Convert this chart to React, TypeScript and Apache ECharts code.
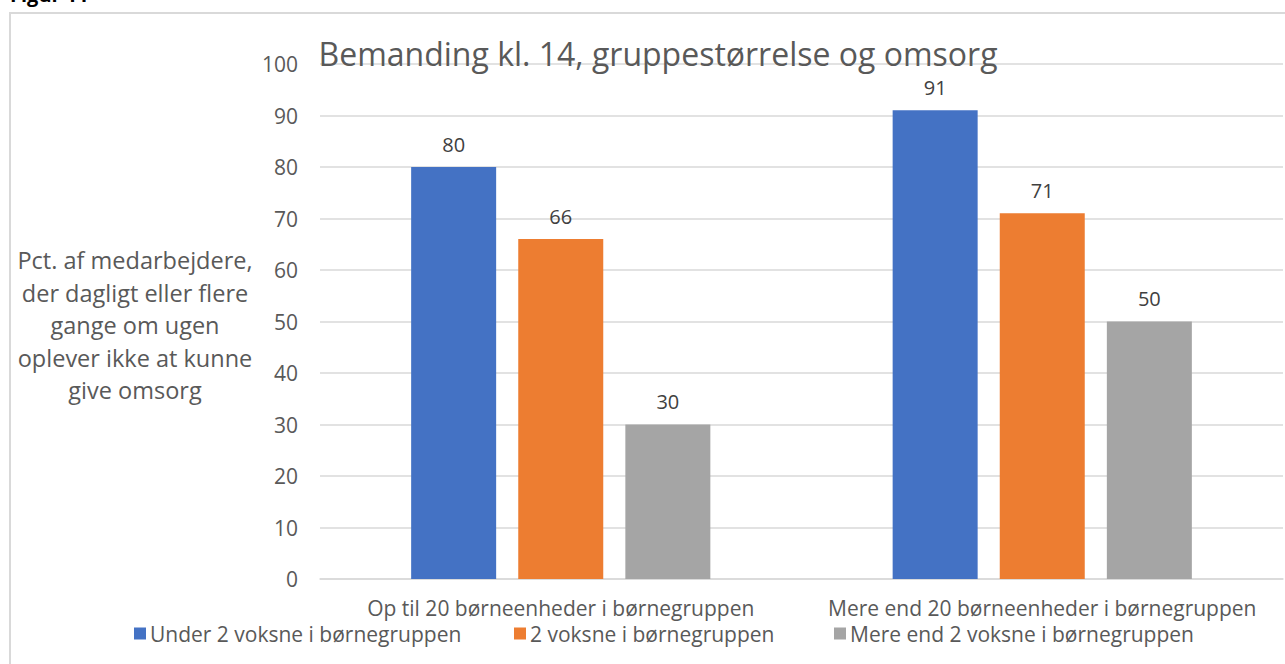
import React, { useEffect, useRef } from "react";
import * as echarts from "echarts";

const categories = [
  "Op til 20 børneenheder i børnegruppen",
  "Mere end 20 børneenheder i børnegruppen",
];
const seriesNames = [
  "Under 2 voksne i børnegruppen",
  "2 voksne i børnegruppen",
  "Mere end 2 voksne i børnegruppen",
];
const under2 = [80, 91];
const two = [66, 71];
const over2 = [30, 50];
const colors = ["#4472C4", "#ED7D31", "#A5A5A5"];
const yTicks = { min: 0, max: 100, interval: 10 };
const titleText = "Bemanding kl. 14, gruppestørrelse og omsorg";
const yAxisTitle =
  "Pct. af medarbejdere,\nder dagligt eller flere\ngange om ugen\noplever ikke at kunne\ngive omsorg";

const FONT = "'Open Sans', 'Noto Sans', sans-serif";
const FS = 21;

export default function App() {
  const ref = useRef<HTMLDivElement>(null);
  useEffect(() => {
    if (!ref.current) return;
    const chart = echarts.init(ref.current, undefined, { renderer: "svg" });
    const values = [under2, two, over2];
    const legendLefts = [129, 509, 829];
    chart.setOption({
      animation: false,
      backgroundColor: "#ffffff",
      textStyle: { fontFamily: FONT },
      title: {
        text: titleText,
        left: 653,
        textAlign: "center",
        top: 32,
        textStyle: {
          fontFamily: FONT,
          fontSize: 32,
          fontWeight: "normal",
          color: "#595959",
        },
      },
      legend: seriesNames.map((n, i) => ({
        data: [n],
        left: legendLefts[i],
        top: 618,
        itemWidth: 12,
        itemHeight: 12,
        itemGap: 5,
        icon: "rect",
        textStyle: { fontFamily: FONT, fontSize: FS, color: "#595959", padding: [0, 0, 0, -1] },
      })),
      grid: { left: 320, top: 64, width: 963, height: 515, containLabel: false },
      xAxis: {
        type: "category",
        data: categories,
        axisLine: { lineStyle: { color: "#d9d9d9", width: 1.5 } },
        axisTick: { show: false },
        axisLabel: {
          fontFamily: FONT,
          fontSize: FS,
          color: "#595959",
          margin: 18,
          interval: 0,
        },
      },
      yAxis: {
        type: "value",
        min: yTicks.min,
        max: yTicks.max,
        interval: yTicks.interval,
        axisLine: { show: false },
        axisTick: { show: false },
        splitLine: { lineStyle: { color: "#d9d9d9", width: 1.5 } },
        axisLabel: {
          fontFamily: FONT,
          fontSize: FS,
          color: "#595959",
          margin: 22,
        },
      },
      series: seriesNames.map((n, i) => ({
        name: n,
        type: "bar",
        data: values[i],
        barWidth: 85,
        barGap: "26%",
        itemStyle: { color: colors[i] },
        label: {
          show: true,
          position: "top",
          distance: 13,
          fontFamily: FONT,
          fontSize: 20,
          color: "#404040",
        },
      })),
      graphic: [
        {
          type: "rect",
          shape: { x: 10, y: 13, width: 1300, height: 700 },
          style: { fill: "none", stroke: "#d9d9d9", lineWidth: 2 },
          silent: true,
        },
        {
          type: "text",
          x: 10,
          y: -16,
          style: {
            text: "Figur 11",
            fontFamily: FONT,
            fontSize: 20,
            fontWeight: "bold",
            fill: "#000000",
          },
        },
        {
          type: "text",
          x: 135,
          y: 325,
          style: {
            text: yAxisTitle,
            fontFamily: FONT,
            fontSize: 23.5,
            lineHeight: 32.5,
            fill: "#595959",
            align: "center",
            verticalAlign: "middle",
          },
        },
      ],
    });
    return () => chart.dispose();
  }, []);
  return (
    <div
      ref={ref}
      style={{ position: "fixed", left: 0, top: 0, width: 1285, height: 664 }}
    />
  );
}
